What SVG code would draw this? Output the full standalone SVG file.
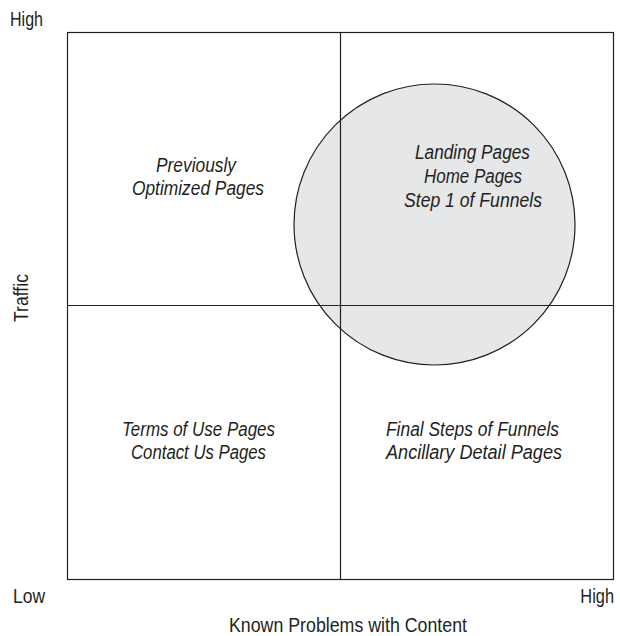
<svg xmlns="http://www.w3.org/2000/svg" width="620" height="636" viewBox="0 0 620 636">
  <style>
    .frame { fill: none; stroke: #231f20; stroke-width: 1.2; }
    .axis { fill: #231f20; font-family: "Liberation Sans", Arial, sans-serif; font-size: 21px; }
    .item { fill: #231f20; font-family: "Liberation Sans", Arial, sans-serif; font-size: 20.5px; font-style: italic; }
    .hot { fill: #e6e7e8; stroke: #231f20; stroke-width: 1.2; }
  </style>
  <rect width="620" height="636" fill="#ffffff"/>

  <!-- highlighted zone: high traffic, many known problems -->
  <g id="focus-zone">
    <circle class="hot" cx="434.5" cy="224.5" r="140.5"/>
  </g>

  <!-- quadrant grid -->
  <g id="grid">
    <rect class="frame" x="67.5" y="32.5" width="546" height="547"/>
    <line class="frame" x1="340.5" y1="32.5" x2="340.5" y2="579.5"/>
    <line class="frame" x1="67.5" y1="305.5" x2="613.5" y2="305.5"/>
  </g>

  <!-- axis labels -->
  <g id="axis-y">
    <text class="axis" x="10" y="26" textLength="33" lengthAdjust="spacingAndGlyphs">High</text>
    <text class="axis" transform="translate(27.5 322) rotate(-90)" x="0" y="0" textLength="48" lengthAdjust="spacingAndGlyphs">Traffic</text>
  </g>
  <g id="axis-x">
    <text class="axis" x="13" y="603" textLength="32" lengthAdjust="spacingAndGlyphs">Low</text>
    <text class="axis" transform="translate(614 603) scale(0.78 1)" x="0" y="0" text-anchor="end">High</text>
    <text class="axis" x="229" y="632" textLength="238" lengthAdjust="spacingAndGlyphs">Known Problems with Content</text>
  </g>

  <!-- quadrant contents -->
  <g id="q-high-low">
    <text class="item" x="156" y="172" textLength="80" lengthAdjust="spacingAndGlyphs">Previously</text>
    <text class="item" x="132" y="195" textLength="132" lengthAdjust="spacingAndGlyphs">Optimized Pages</text>
  </g>
  <g id="q-high-high">
    <text class="item" x="415" y="159" textLength="115" lengthAdjust="spacingAndGlyphs">Landing Pages</text>
    <text class="item" x="424" y="183" textLength="98" lengthAdjust="spacingAndGlyphs">Home Pages</text>
    <text class="item" x="404" y="207" textLength="138" lengthAdjust="spacingAndGlyphs">Step 1 of Funnels</text>
  </g>
  <g id="q-low-low">
    <text class="item" x="122" y="436" textLength="153" lengthAdjust="spacingAndGlyphs">Terms of Use Pages</text>
    <text class="item" x="131" y="459" textLength="135" lengthAdjust="spacingAndGlyphs">Contact Us Pages</text>
  </g>
  <g id="q-low-high">
    <text class="item" x="386" y="436" textLength="173" lengthAdjust="spacingAndGlyphs">Final Steps of Funnels</text>
    <text class="item" x="386" y="459" textLength="176" lengthAdjust="spacingAndGlyphs">Ancillary Detail Pages</text>
  </g>
</svg>
